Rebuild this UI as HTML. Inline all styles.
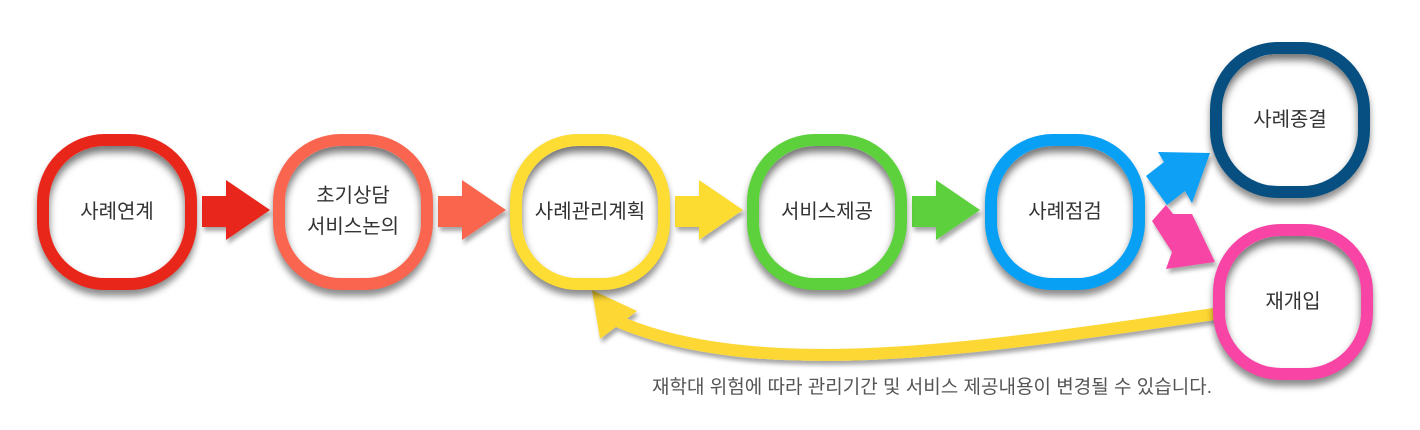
<!DOCTYPE html>
<html><head><meta charset="utf-8"><style>
body{margin:0;width:1420px;height:430px;background:#fff;overflow:hidden;position:relative;font-family:"Liberation Sans","Noto Sans CJK KR",sans-serif}
.n{position:absolute;width:136px;height:132px;border:12px solid;border-radius:68px;background:#fff;
box-shadow:inset 0 6px 8px rgba(0,0,0,.55),0 6px 7px rgba(0,0,0,.45);display:flex;align-items:center;justify-content:center;text-align:center;color:#333;font-size:20px;font-weight:normal;line-height:31px;z-index:2}
svg{position:absolute;left:0;top:0}
</style></head><body>
<svg width="1420" height="430" style="z-index:1">
<defs><filter id="s" x="-20%" y="-20%" width="150%" height="150%"><feDropShadow dx="2" dy="4" stdDeviation="2" flood-color="#000" flood-opacity=".35"/></filter></defs>
<g filter="url(#s)">
<polygon points="202,196 226,196 226,180 270,210 226,240 226,227 202,227" fill="#e8261a"/>
<polygon points="438,196 462,196 462,180 506,210 462,240 462,227 438,227" fill="#f9654e"/>
<polygon points="675,196 699,196 699,180 743,210 699,240 699,227 675,227" fill="#fddc33"/>
<polygon points="912,196 936,196 936,180 980,210 936,240 936,227 912,227" fill="#5dd13c"/>
<polygon points="1146,176 1164,162 1158,152 1210,153 1192,203 1185,191 1167,205" fill="#08a0f5"/>
<polygon points="1152,221 1166,205 1173,214 1192,214 1215,262 1166,269 1172,252" fill="#f744a5"/>
<path d="M1214,314 C1000,345 760,385 615,320" fill="none" stroke="#fdd835" stroke-width="12"/>
<polygon points="592,290 600,339 637,311" fill="#fdd835"/>
</g>
<text x="652" y="393" font-size="19" fill="#555" textLength="560" font-family="Liberation Sans, Noto Sans CJK KR, sans-serif">재학대 위험에 따라 관리기간 및 서비스 제공내용이 변경될 수 있습니다.</text>
</svg>
<div class="n" style="left:37px;top:134px;border-color:#e8261a">사례연계</div>
<div class="n" style="left:273px;top:134px;border-color:#f9654e">초기상담<br>서비스논의</div>
<div class="n" style="left:510px;top:134px;border-color:#fddc33">사례관리계획</div>
<div class="n" style="left:747px;top:134px;border-color:#5dd13c">서비스제공</div>
<div class="n" style="left:985px;top:134px;border-color:#08a0f5">사례점검</div>
<div class="n" style="left:1210px;top:42px;border-color:#064f80">사례종결</div>
<div class="n" style="left:1213px;top:224px;border-color:#f744a5">재개입</div>
</body></html>
